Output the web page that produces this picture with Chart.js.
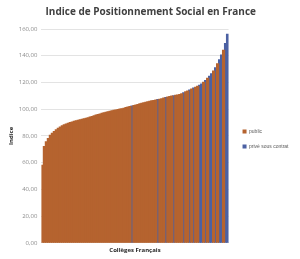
<!DOCTYPE html>
<html>
<head>
<meta charset="utf-8">
<script src="https://cdn.jsdelivr.net/npm/chart.js@4"></script>
<style>
  body { margin: 0; background: #fff; }
  #wrap { width: 300px; height: 259px; }
</style>
</head>
<body>
<div id="wrap"><canvas id="ips" width="300" height="259"></canvas></div>
<script>
// IPS moyen de chaque collège, trié par ordre croissant
const valeurs = [
  58, 72, 75.5, 78, 80.5, 82, 83.3, 84.5, 85.7, 86.6,
  87.5, 88.2, 88.8, 89.4, 90, 90.4, 90.8, 91.2, 91.6, 92,
  92.3, 92.7, 93.1, 93.6, 94, 94.5, 95, 95.5, 96, 96.4,
  96.8, 97.2, 97.6, 98, 98.4, 98.8, 99.1, 99.4, 99.7, 100,
  100.3, 100.7, 101.1, 101.5, 101.9, 102.3, 102.7, 103.1, 103.5, 103.9,
  104.3, 104.7, 105.1, 105.5, 105.9, 106.2, 106.5, 106.8, 107.1, 107.4,
  107.8, 108.2, 108.6, 109, 109.4, 109.7, 110, 110.3, 110.6, 110.9,
  111.5, 112.2, 112.9, 113.6, 114.3, 115, 115.7, 116.4, 117.1, 117.8,
  118.8, 120, 121.4, 123, 124.6, 126.5, 128.5, 131, 134, 137,
  140.5, 144, 149, 156
];
// p = public, s = privé sous contrat
const secteur = (
  'pppppppppp' + 'pppppppppp' + 'pppppppppp' + 'pppppppppp' + 'pppppspppp' +
  'ppppppppsp' + 'ppspppsppp' + 'psppspspps' + 'spspsspsps' + 'spss'
).split('');
const yTicks = [0, 20, 40, 60, 80, 100, 120, 140, 160];

const colleges = valeurs.map((_, i) => i + 1);
const publicData = valeurs.map((v, i) => secteur[i] === 'p' ? v : null);
const priveData = valeurs.map((v, i) => secteur[i] === 's' ? v : null);

const font = 'Open Sans';

new Chart(document.getElementById('ips'), {
  type: 'bar',
  data: {
    labels: colleges,
    datasets: [
      { label: 'public', data: publicData, backgroundColor: '#b5632f' },
      { label: 'privé sous contrat', data: priveData, backgroundColor: '#4c61a3' }
    ]
  },
  options: {
    responsive: false,
    animation: false,
    layout: { padding: { left: 3, right: 1.5, top: 0, bottom: 5 } },
    datasets: { bar: { grouped: false, categoryPercentage: 1, barPercentage: 1, borderWidth: 0, inflateAmount: 0.6 } },
    plugins: {
      title: {
        display: true,
        text: 'Indice de Positionnement Social en France',
        color: '#404040',
        font: { family: font, size: 10, weight: 'bold' },
        padding: { top: 6, bottom: 11 }
      },
      legend: {
        position: 'right',
        align: 'center',
        maxWidth: 100,
        // titre vide : ne sert qu'à descendre un peu les entrées
        title: { display: true, text: '', font: { size: 5 }, padding: { top: 0, bottom: 18 } },
        labels: {
          boxWidth: 4, boxHeight: 4, padding: 10,
          color: '#595959',
          font: { family: 'Liberation Sans', size: 5 }
        }
      },
      tooltip: { enabled: false }
    },
    scales: {
      x: {
        grid: { display: false, drawTicks: false },
        border: { color: '#d9d9d9' },
        ticks: { display: false },
        title: {
          display: true, text: 'Collèges Français', color: '#262626',
          font: { family: font, size: 6, weight: 'bold' }, padding: { top: 4, bottom: 0 }
        }
      },
      y: {
        min: 0, max: 160,
        afterBuildTicks: axis => { axis.ticks = yTicks.map(v => ({ value: v })); },
        grid: { color: '#e3e3e3', drawTicks: false },
        border: { display: false },
        ticks: {
          color: '#8c8c8c', padding: 4,
          font: { family: font, size: 6 },
          callback: v => v.toFixed(2).replace('.', ',')
        },
        title: {
          display: true, text: 'Indice', color: '#262626',
          font: { family: font, size: 6, weight: 'bold' }, padding: { top: 4.5, bottom: 0 }
        }
      },
      // espace vide entre la zone de tracé et la légende
      gap: {
        position: 'right',
        grid: { display: false, drawTicks: false },
        border: { display: false },
        ticks: { display: false },
        afterFit: s => { s.width = 4; }
      }
    }
  }
});
</script>
</body>
</html>
